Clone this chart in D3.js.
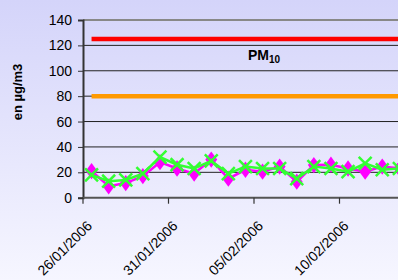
<!DOCTYPE html>
<html><head><meta charset="utf-8">
<script src="https://cdn.jsdelivr.net/npm/d3@7"></script>
<style>body{margin:0;overflow:hidden}svg{display:block}</style>
</head><body>
<script>
const dates = ["26/01/2006","27/01/2006","28/01/2006","29/01/2006","30/01/2006","31/01/2006","01/02/2006","02/02/2006","03/02/2006","04/02/2006","05/02/2006","06/02/2006","07/02/2006","08/02/2006","09/02/2006","10/02/2006","11/02/2006","12/02/2006","13/02/2006"];
const seriesMagenta = [21, 9, 11.5, 17, 28, 23, 19, 30, 15, 22, 20.5, 24.5, 12.6, 25.7, 26, 23, 20.5, 24.5, 23];
const seriesGreen = [18, 13, 14, 19, 32, 26, 23, 29, 19, 24.5, 23, 23, 15, 24.5, 23, 20.5, 27, 22, 23];
const limitRed = 125;
const limitOrange = 80;
const yTicks = [0,20,40,60,80,100,120,140];
const xTickLabels = ["26/01/2006","31/01/2006","05/02/2006","10/02/2006"];

const W = 398, H = 280;
const svg = d3.select("body").append("svg").attr("width", W).attr("height", H);
const defs = svg.append("defs");
const g = defs.append("linearGradient").attr("id","bg").attr("x1",0).attr("y1",0).attr("x2",0).attr("y2",1);
g.append("stop").attr("offset","0%").attr("stop-color","#d4d4fa");
g.append("stop").attr("offset","100%").attr("stop-color","#f6f6ff");
svg.append("rect").attr("width",W).attr("height",H).attr("fill","url(#bg)");

const mLeft = 83, mTop = 20, mBottom = 197.7, step = 17.1;
const x = d3.scaleBand().domain(dates).range([mLeft, mLeft + step*dates.length]).padding(0);
const y = d3.scaleLinear().domain([0,140]).range([mBottom, mTop]);
const cx = d => x(d) + x.bandwidth()/2;

// gridlines
svg.append("g").selectAll("line").data(yTicks.filter(t => t>0 && t<140)).join("line")
  .attr("x1", mLeft).attr("x2", W).attr("y1", d=>y(d)).attr("y2", d=>y(d))
  .attr("stroke","#222").attr("stroke-width",1);
// top border
svg.append("line").attr("x1",mLeft).attr("x2",W).attr("y1",y(140)).attr("y2",y(140)).attr("stroke","#888").attr("stroke-width",2);

// y axis
const yAxis = svg.append("g").attr("transform",`translate(${mLeft},0)`)
  .call(d3.axisLeft(y).tickValues(yTicks).tickSize(5).tickPadding(6));
yAxis.select(".domain").attr("stroke","#333").attr("stroke-width",2);
yAxis.selectAll(".tick line").attr("stroke","#333");
yAxis.selectAll("text").attr("font-family","Liberation Sans, Arial, sans-serif").attr("font-size",14).attr("fill","#000");

// x axis
svg.append("line").attr("x1",mLeft).attr("x2",W).attr("y1",mBottom).attr("y2",mBottom).attr("stroke","#555").attr("stroke-width",2);
const xt = svg.append("g");
xt.selectAll("line").data(xTickLabels).join("line")
  .attr("x1", d=>x(d)).attr("x2", d=>x(d)).attr("y1", mBottom).attr("y2", mBottom+6)
  .attr("stroke","#333").attr("stroke-width",1.2);
xt.selectAll("text").data(xTickLabels).join("text")
  .attr("transform", d=>`translate(${x(d)+3},${mBottom+22}) rotate(-45)`)
  .attr("text-anchor","end").attr("dy","0.7em")
  .attr("font-family","Liberation Sans, Arial, sans-serif").attr("font-size",14).text(d=>d);

// y title
svg.append("text").attr("transform","translate(22,92) rotate(-90)").attr("text-anchor","middle")
  .attr("font-family","Liberation Sans, Arial, sans-serif").attr("font-size",13).attr("font-weight","bold").text("en µg/m3");

// limit lines
const line = d3.line().x(d=>cx(d[0])).y(d=>y(d[1]));
svg.append("path").attr("d", line(dates.map(d=>[d,limitRed]))).attr("stroke","#ff0000").attr("stroke-width",4.5).attr("fill","none");
svg.append("path").attr("d", line(dates.map(d=>[d,limitOrange]))).attr("stroke","#ff9900").attr("stroke-width",4.5).attr("fill","none");

// PM10 label
const pm = svg.append("text").attr("x",248).attr("y",60).attr("font-family","Liberation Sans, Arial, sans-serif").attr("font-weight","bold").attr("font-size",14);
pm.append("tspan").text("PM");
pm.append("tspan").attr("font-size",10).attr("dy",3).text("10");

// magenta series
const mag = dates.map((d,i)=>[d, seriesMagenta[i]]);
svg.append("path").attr("d", line(mag)).attr("stroke","#ff00ff").attr("stroke-width",2.5).attr("fill","none");
svg.append("g").selectAll("path").data(mag).join("path")
  .attr("d", d3.symbol().type(d3.symbolDiamond).size(85))
  .attr("transform", d=>`translate(${cx(d[0])},${y(d[1])}) scale(1.2,0.95)`)
  .attr("fill","#ff00ff");

// green series
const grn = dates.map((d,i)=>[d, seriesGreen[i]]);
svg.append("path").attr("d", line(grn)).attr("stroke","#33ff33").attr("stroke-width",2.5).attr("fill","none");
svg.append("g").selectAll("path").data(grn).join("path")
  .attr("d", d3.symbol().type(d3.symbolX).size(110))
  .attr("transform", d=>`translate(${cx(d[0])},${y(d[1])})`)
  .attr("fill","none").attr("stroke","#33ff33").attr("stroke-width",2.5);
</script>
</body></html>
